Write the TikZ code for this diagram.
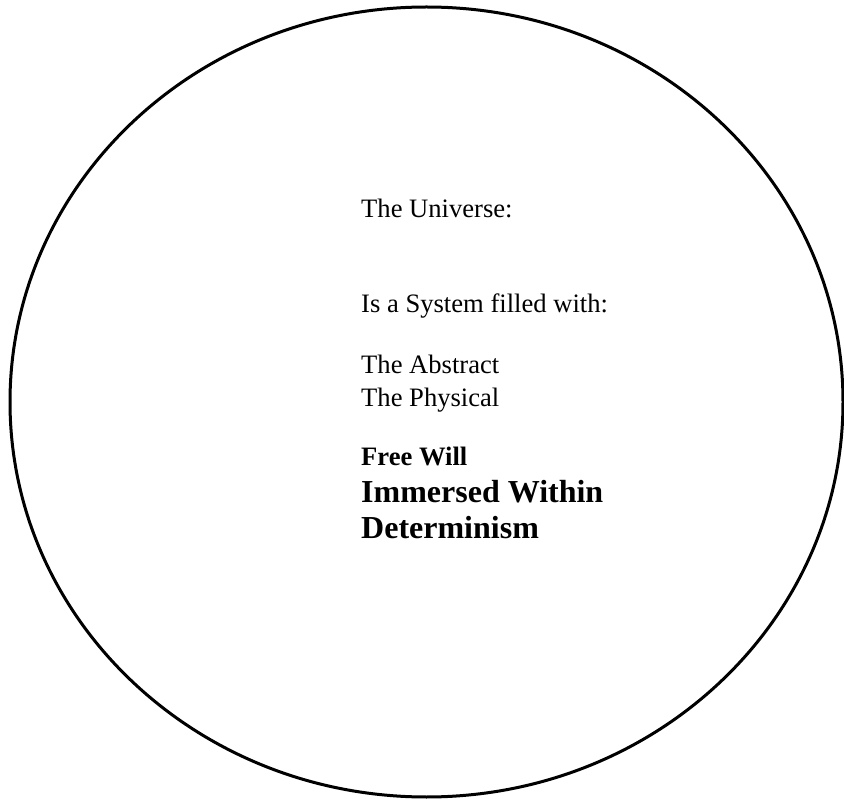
\documentclass[tikz,border=0pt]{standalone}
\usepackage{fontspec}
\setmainfont{Liberation Serif}
\usetikzlibrary{positioning}

\begin{document}
\begin{tikzpicture}[
		x=1pt, y=-1pt,
		outline/.style={black, line width=3pt},
		plaintext/.style={anchor=base west, inner sep=0pt, font=\fontsize{26.6}{32}\selectfont},
		boldtext/.style={anchor=base west, inner sep=0pt, font=\fontsize{26.6}{32}\selectfont\bfseries},
		bigtext/.style={anchor=base west, inner sep=0pt, font=\fontsize{32}{38}\selectfont\bfseries}
		]
		
		% Fix the canvas size
		\useasboundingbox (0,0) rectangle (844,799);
		
		% The big ellipse around everything
		\draw[outline] (426.5,402) ellipse [x radius=416.5pt, y radius=395pt];
		
		% Text lines inside the ellipse
		\node[plaintext] (universe) at (361,218) {The Universe:};
		\node[plaintext] (system) at (361,313) {Is a System filled with:};
		\node[plaintext] (abstract) at (361,374) {The Abstract};
		\node[plaintext] (physical) at (361,407) {The Physical};
		\node[boldtext] (freewill) at (361,466) {Free Will};
		\node[bigtext] (immersed) at (361,503) {Immersed Within};
		\node[bigtext] (determinism) at (361,539) {Determinism};
		
	\end{tikzpicture}
\end{document}
